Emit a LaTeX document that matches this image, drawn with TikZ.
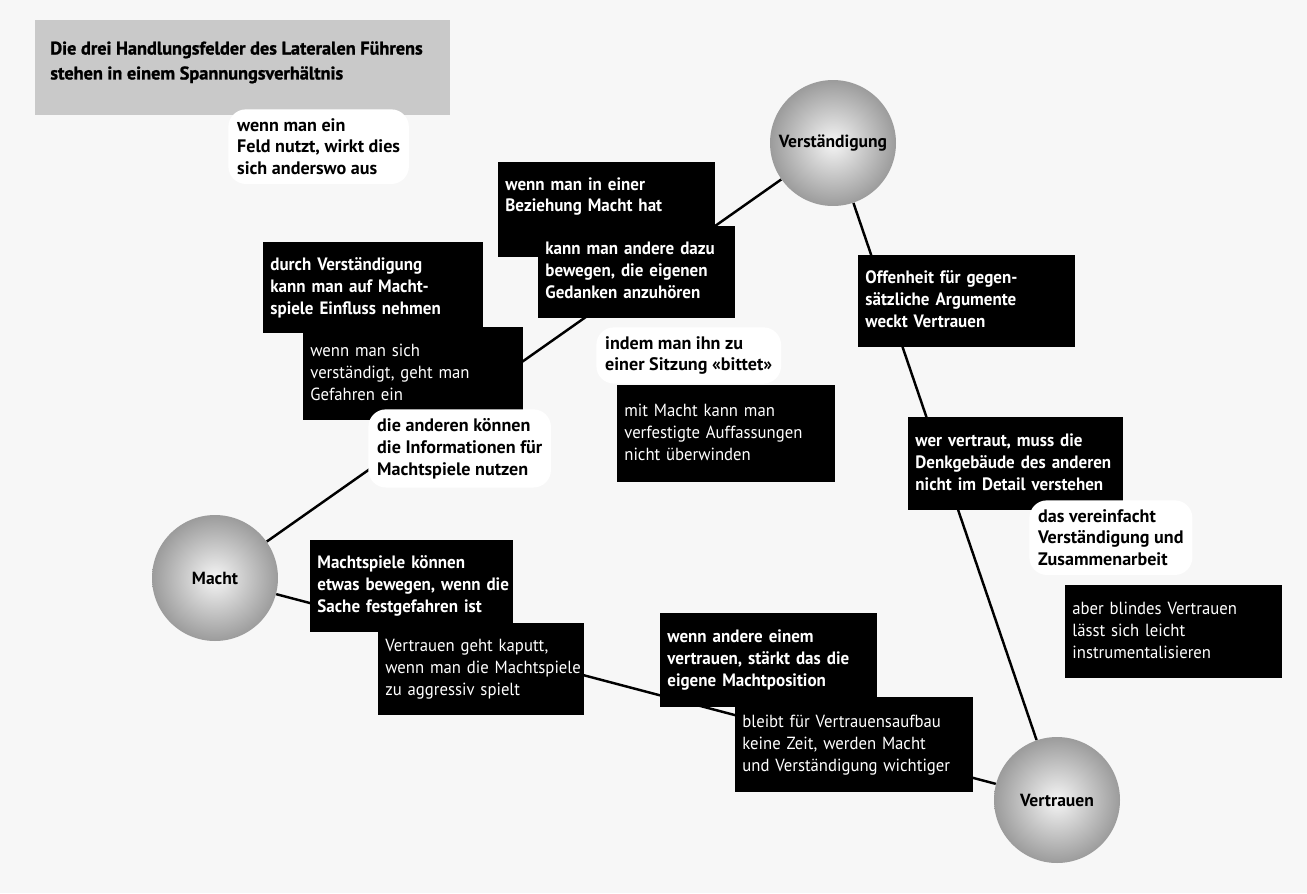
\documentclass[tikz,border=0pt]{standalone}
\usepackage{fontspec}
\setsansfont{PT Sans}
\newfontfamily\boxfont{PT Sans}[FakeStretch=0.95]
\newfontfamily\heavyfont{PT Sans}[BoldFeatures={FakeBold=1.2}]
\usetikzlibrary{positioning,shadings}
\newcommand{\zeilen}[1]{\begin{tabular}{@{}l@{}}#1\end{tabular}}

\tikzset{
  feld/.style={circle, minimum size=2.52cm, inner sep=0pt, shade, inner color=gray!8, outer color=gray!78, font=\sffamily\bfseries\fontsize{10}{12.5}\selectfont},
  darkbox/.style 2 args={fill=black, text=white, anchor=north west, inner xsep=4pt, text width=#1cm, minimum height=#2cm,
    font=\boxfont\bfseries\fontsize{10.2}{12.5}\selectfont},
  darkboxr/.style 2 args={darkbox={#1}{#2}, font=\boxfont\fontsize{10}{12.5}\selectfont},
  note/.style={fill=white, rounded corners=10pt, anchor=north west, align=left, inner sep=5pt, font=\sffamily\bfseries\fontsize{10.3}{12.5}\selectfont},
  link/.style={line width=1.4pt}
}

\begin{document}
\begin{tikzpicture}[x=0.02cm, y=-0.02cm]
  % background and title band
  \fill[gray!6] (0,0) rectangle (1307,893);
  \fill[gray!42] (35,20) rectangle (450,115);
  \node[anchor=north west, inner sep=0pt, align=left, font=\heavyfont\bfseries\fontsize{10.4}{14.2}\selectfont] (title) at (50,41)
    {Die drei Handlungsfelder des Lateralen Führens\\stehen in einem Spannungsverhältnis};

  % the three fields
  \foreach \n/\x/\y/\name in {ver/833/143/Verständigung, mac/215/578/Macht, vtr/1057/800/Vertrauen}{
    \node[feld] (\n) at (\x,\y) {\name};}

  \draw[link] (ver) -- (mac);
  \draw[link] (mac) -- (vtr);
  \draw[link] (ver) -- (vtr);

  % boxes
  \node[darkbox={4.06}{0.5}, inner ysep=7pt, text depth=25pt] (b1) at (498,162) {\zeilen{wenn man in einer\\Beziehung Macht hat}};
  \node[darkbox={3.66}{1.84}] (b2) at (538,226) {\zeilen{kann man andere dazu\\bewegen, die eigenen\\Gedanken anzuhören}};
  \node[darkbox={4.12}{1.82}] (b3) at (263,242) {\zeilen{durch Verständigung\\kann man auf Macht-\\spiele Einfluss nehmen}};
  \node[darkboxr={4.12}{1.86}] (b4) at (303,327) {\zeilen{wenn man sich\\verständigt, geht man\\Gefahren ein}};
  \node[darkboxr={4.08}{1.94}] (b5) at (617,385) {\zeilen{mit Macht kann man\\verfestigte Auffassungen\\nicht überwinden}};
  \node[darkbox={4.06}{1.84}] (b6) at (858,255) {\zeilen{Offenheit für gegen-\\sätzliche Argumente\\weckt Vertrauen}};
  \node[darkbox={4.02}{1.86}] (b7) at (908,417) {\zeilen{wer vertraut, muss die\\Denkgebäude des anderen\\nicht im Detail verstehen}};
  \node[darkboxr={4.06}{1.86}] (b8) at (1065,585) {\zeilen{aber blindes Vertrauen\\lässt sich leicht\\instrumentalisieren}};
  \node[darkbox={3.78}{1.84}] (b9) at (310,540) {\zeilen{Machtspiele können\\etwas bewegen, wenn die\\Sache festgefahren ist}};
  \node[darkboxr={3.84}{1.84}] (b10) at (378,623) {\zeilen{Vertrauen geht kaputt,\\wenn man die Machtspiele\\zu aggressiv spielt}};
  \node[darkbox={4.06}{1.88}] (b11) at (660,613) {\zeilen{wenn andere einem\\vertrauen, stärkt das die\\eigene Machtposition}};
  \node[darkboxr={4.48}{1.9}] (b12) at (735,697) {\zeilen{bleibt für Vertrauensaufbau\\keine Zeit, werden Macht\\und Verständigung wichtiger}};

  % free notes
  \node[note] (n1) at (228,109) {wenn man ein\\Feld nutzt, wirkt dies\\sich anderswo aus};
  \node[note] (n2) at (596,327) {indem man ihn zu\\einer Sitzung «bittet»};
  \node[note] (n3) at (368,409) {die anderen können\\die Informationen für\\Machtspiele nutzen};
  \node[note] (n4) at (1029,500) {das vereinfacht\\Verständigung und\\Zusammenarbeit};
\end{tikzpicture}
\end{document}
